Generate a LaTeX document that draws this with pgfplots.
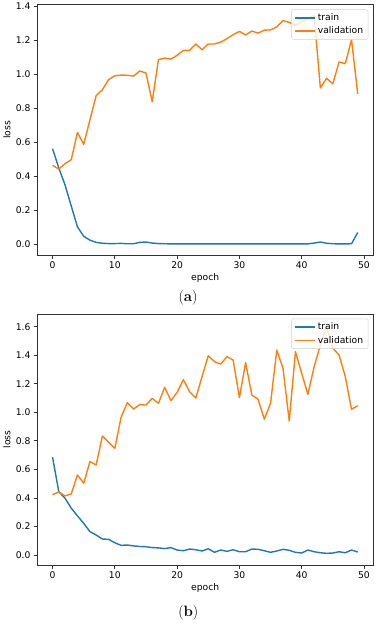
\documentclass[border=0pt]{standalone}
\usepackage{fontspec}
\usepackage{pgfplots}
\pgfplotsset{compat=1.18}
\newfontfamily\dv{DejaVu Sans}
\definecolor{tabblue}{HTML}{1F77B4}
\definecolor{taborange}{HTML}{FF7F0E}
\pgfplotsset{
  lossaxis/.style={
    scale only axis, width=335.7pt,
    anchor=south west,
    xmin=-2.45, xmax=51.45,
    xtick={0,10,20,30,40,50},
    tick align=outside, tick pos=left,
    major tick length=3.3pt,
    axis line style={black!80, line width=0.75pt},
    every tick/.style={black!80, line width=0.75pt},
    tick label style={font=\dv\fontsize{9.2}{11}\selectfont, /pgf/number format/assume math mode=true},
    yticklabel style={/pgf/number format/fixed, /pgf/number format/fixed zerofill, /pgf/number format/precision=1},
    xlabel={epoch}, ylabel={loss},
    every axis x label/.style={at={([yshift=-23pt]axis description cs:0.5,0)}, anchor=center, font=\dv\fontsize{9.2}{11}\selectfont},
    every axis y label/.style={at={([xshift=-30.3pt]axis description cs:0,0.5)}, anchor=center, rotate=90, font=\dv\fontsize{9.2}{11}\selectfont},
    legend cell align=left,
    legend style={at={(1,1)}, anchor=north east, xshift=-4.7pt, yshift=-4.7pt,
      draw=black!18, rounded corners=2pt, fill=white, fill opacity=0.8, text opacity=1,
      font=\dv\fontsize{9.2}{11}\selectfont, inner xsep=3pt, inner ysep=2pt, row sep=0.8pt},
    legend image code/.code={\draw[#1, line width=1.4pt] (0pt,0pt) -- (20pt,0pt);},
    every axis plot/.append style={line width=1.4pt, line join=round},
  }
}
\pgfplotstableread{
e t v
0 0.563 0.465
1 0.450 0.443
2 0.350 0.475
3 0.226 0.498
4 0.103 0.659
5 0.048 0.588
6 0.025 0.733
7 0.012 0.875
8 0.007 0.910
9 0.005 0.969
10 0.005 0.992
11 0.006 0.996
12 0.004 0.995
13 0.004 0.990
14 0.012 1.020
15 0.014 1.008
16 0.008 0.839
17 0.005 1.087
18 0.004 1.096
19 0.003 1.090
20 0.003 1.112
21 0.003 1.141
22 0.003 1.141
23 0.003 1.179
24 0.003 1.145
25 0.003 1.179
26 0.003 1.179
27 0.003 1.190
28 0.003 1.210
29 0.003 1.234
30 0.003 1.253
31 0.003 1.232
32 0.003 1.255
33 0.003 1.243
34 0.003 1.260
35 0.003 1.262
36 0.003 1.279
37 0.003 1.316
38 0.003 1.306
39 0.003 1.290
40 0.003 1.310
41 0.003 1.330
42 0.008 1.345
43 0.014 0.920
44 0.007 0.977
45 0.004 0.945
46 0.003 1.073
47 0.003 1.063
48 0.004 1.204
49 0.070 0.885
}\dataA
\pgfplotstableread{
e t v
0 0.685 0.423
1 0.444 0.442
2 0.398 0.414
3 0.328 0.428
4 0.274 0.561
5 0.222 0.503
6 0.164 0.655
7 0.140 0.631
8 0.112 0.834
9 0.110 0.790
10 0.086 0.748
11 0.068 0.965
12 0.070 1.068
13 0.064 1.023
14 0.060 1.054
15 0.058 1.051
16 0.052 1.098
17 0.050 1.063
18 0.045 1.175
19 0.052 1.082
20 0.035 1.140
21 0.030 1.229
22 0.042 1.145
23 0.037 1.100
24 0.028 1.250
25 0.044 1.397
26 0.019 1.355
27 0.035 1.338
28 0.026 1.390
29 0.037 1.366
30 0.023 1.103
31 0.023 1.348
32 0.042 1.121
33 0.040 1.091
34 0.030 0.951
35 0.019 1.063
36 0.028 1.436
37 0.040 1.308
38 0.033 0.939
39 0.019 1.425
40 0.014 1.273
41 0.035 1.126
42 0.023 1.320
43 0.016 1.472
44 0.012 1.605
45 0.014 1.449
46 0.023 1.402
47 0.016 1.250
48 0.035 1.021
49 0.021 1.046
}\dataB
\begin{document}
\begin{tikzpicture}[x=1pt,y=1pt]
\useasboundingbox (0,0) rectangle (384,627);
\begin{axis}[lossaxis, at={(37.3pt,371.7pt)}, height=250.6pt,
  ymin=-0.064, ymax=1.41, ytick={0,0.2,...,1.4}]
\addplot[tabblue] table[x=e,y=t]{\dataA};
\addlegendentry{train}
\addplot[taborange] table[x=e,y=v]{\dataA};
\addlegendentry{validation}
\end{axis}
\begin{axis}[lossaxis, at={(37.3pt,61.7pt)}, height=251.3pt,
  ymin=-0.072, ymax=1.689, ytick={0,0.2,...,1.6}]
\addplot[tabblue] table[x=e,y=t]{\dataB};
\addlegendentry{train}
\addplot[taborange] table[x=e,y=v]{\dataB};
\addlegendentry{validation}
\end{axis}
\node[font=\fontsize{15}{17}\selectfont] at (188,329) {(\textbf{a})};
\node[font=\fontsize{15}{17}\selectfont] at (188.3,14.3) {(\textbf{b})};
\end{tikzpicture}
\end{document}
